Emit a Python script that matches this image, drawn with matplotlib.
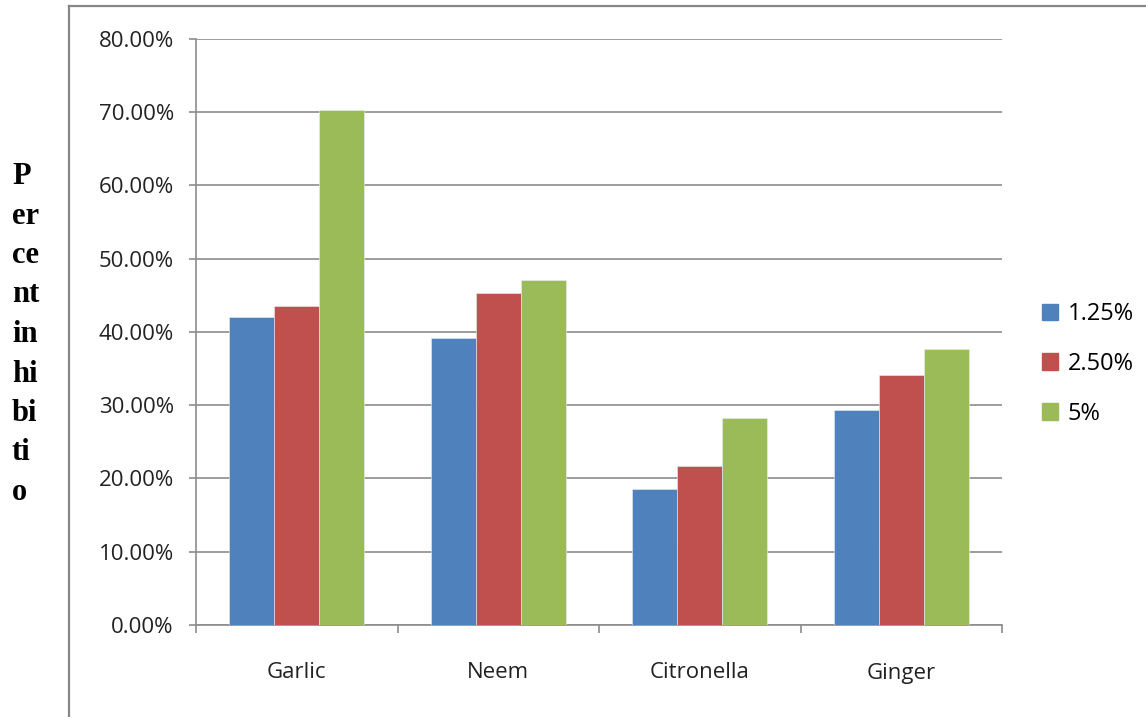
import numpy as np
import matplotlib
matplotlib.use("Agg")
import matplotlib.pyplot as plt
from matplotlib.patches import Patch
from matplotlib.lines import Line2D
from matplotlib.ticker import MultipleLocator, FuncFormatter

# extracts and % inhibition (fraction) for each concentration
extracts = ["Garlic", "Neem", "Citronella", "Ginger"]
conc_labels = ["1.25%", "2.50%", "5%"]
inhib_125 = [0.420, 0.392, 0.185, 0.294]
inhib_250 = [0.435, 0.453, 0.217, 0.341]
inhib_5 = [0.703, 0.471, 0.283, 0.377]

ylabel_parts = ["P", "er", "ce", "nt", "in", "hi", "bi", "ti", "o"]

COLORS = ["#4F81BD", "#C0504D", "#9BBB59"]
GRID = "#8c8c8c"
FONT = "Open Sans"

W, H = 1146, 717
fig = plt.figure(figsize=(W / 100, H / 100), dpi=100)
ax = fig.add_axes([196 / W, 1 - 625 / H, (1002 - 196) / W, (625 - 38.7) / H])

x = np.arange(len(extracts))
bw = 0.223
for i, (vals, col) in enumerate(zip([inhib_125, inhib_250, inhib_5], COLORS)):
    ax.bar(x + (i - 1) * bw, vals, width=bw, color=col,
           edgecolor="#e8eef5", linewidth=0.4, zorder=3)

ax.set_xlim(-0.5, len(extracts) - 0.5)
ax.set_ylim(0, 0.8)
ax.yaxis.set_major_locator(MultipleLocator(0.1))
ax.yaxis.set_major_formatter(FuncFormatter(lambda v, _: f"{v * 100:.2f}%"))
ax.grid(axis="y", color=GRID, linewidth=1.2, zorder=0)

ax.set_xticks(np.arange(len(extracts) + 1) - 0.5, minor=False)
ax.set_xticklabels([])
ax.set_xticks(x, minor=True)
ax.set_xticklabels(extracts, minor=True)
ax.tick_params(axis="x", which="major", length=6, color=GRID, width=1.2)
ax.tick_params(axis="x", which="minor", length=0, pad=27,
               labelsize=16, labelcolor="#222222")
ax.tick_params(axis="y", length=5, color=GRID, width=1.2, pad=11,
               labelsize=16, labelcolor="#222222")
for lab in ax.get_xticklabels(minor=True) + ax.get_yticklabels():
    lab.set_fontfamily(FONT)

for s in ["top", "right"]:
    ax.spines[s].set_visible(False)
for s in ["left", "bottom"]:
    ax.spines[s].set_color(GRID)
    ax.spines[s].set_linewidth(1.2)

# stacked, broken-up y label as in the original
y0, step = 184, 39.5
for k, part in enumerate(ylabel_parts):
    fig.text(12 / W, 1 - (y0 + k * step) / H, part, ha="left", va="baseline",
             fontsize=22, fontweight="bold", family="Liberation Serif")

# legend
handles = [Patch(facecolor=c, edgecolor=c, label=l) for c, l in zip(COLORS, conc_labels)]
fig.legend(handles=handles, loc="center left", bbox_to_anchor=(1030 / W, 1 - 364 / H),
           frameon=False, borderpad=0, handlelength=0.7, handleheight=0.7,
           handletextpad=0.4, labelspacing=1.1,
           prop={"family": FONT, "size": 17})

# outer chart frame (left and top edges only visible)
fx, fy = 69 / W, 1 - 6 / H
fig.add_artist(Line2D([fx, fx], [0, fy], transform=fig.transFigure,
                      color="#878787", linewidth=1.6))
fig.add_artist(Line2D([fx, 1], [fy, fy], transform=fig.transFigure,
                      color="#878787", linewidth=1.6))

fig.savefig("out.png", dpi=100)
